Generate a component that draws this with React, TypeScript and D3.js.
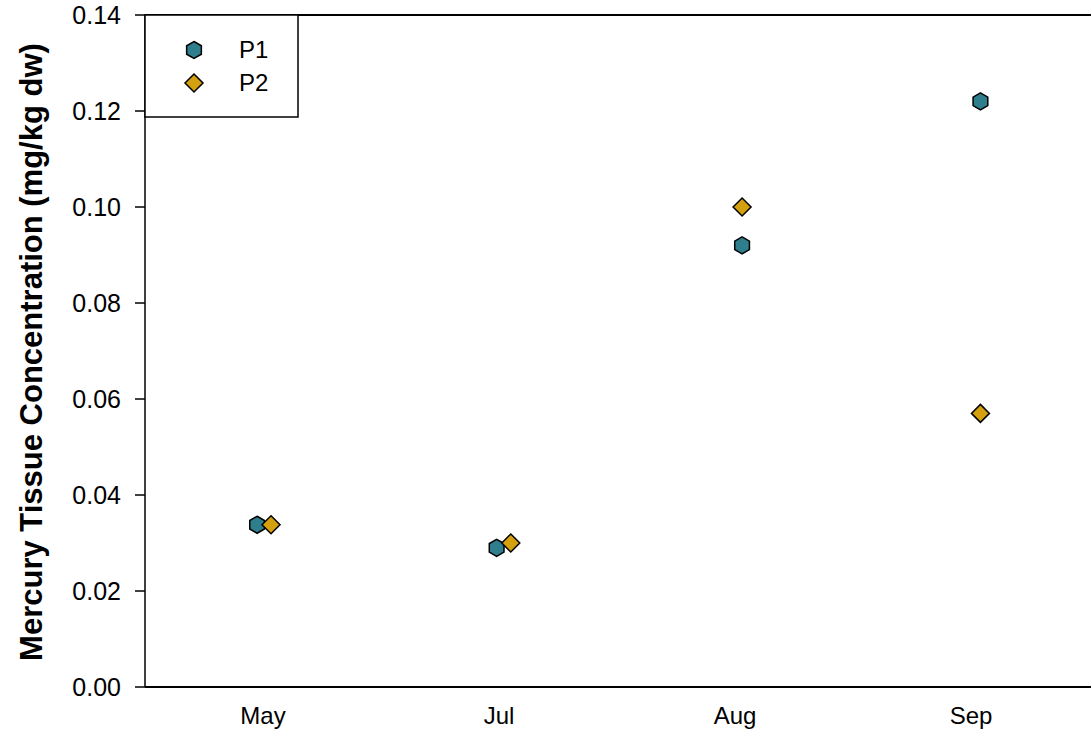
import React from 'react';
import * as d3 from 'd3';

const months = ['May', 'Jul', 'Aug', 'Sep'];
// x positions in category units (points sit slightly off the month centre)
const p1X = [-0.025, 0.99, 2.03, 3.04];
const p1Y = [0.0338, 0.029, 0.092, 0.122];
const p2X = [0.034, 1.05, 2.03, 3.04];
const p2Y = [0.0338, 0.030, 0.100, 0.057];
const yTicks = [0, 0.02, 0.04, 0.06, 0.08, 0.1, 0.12, 0.14];

const P1_COLOR = '#2f7e8d';
const P2_COLOR = '#d5a00f';
const FONT = 'Arial, "Liberation Sans", sans-serif';

const hexPath = (r: number) => {
  const pts = d3.range(6).map(i => {
    const a = (Math.PI / 3) * i - Math.PI / 2;
    return [r * Math.cos(a), r * Math.sin(a)];
  });
  return 'M' + pts.map(p => p.join(',')).join('L') + 'Z';
};
const diamondPath = (r: number) => `M0,${-r}L${r},0L0,${r}L${-r},0Z`;

const App = () => {
  const width = 1091;
  const height = 734;
  const left = 145;
  const top = 15;
  const bottom = 687;

  const x = d3.scaleLinear().domain([-0.5, 3.5]).range([left, 1089]);
  const y = d3.scaleLinear().domain([0, 0.14]).range([bottom, top]);

  const hex = hexPath(8.5);
  const dia = diamondPath(9);

  return (
    <svg width={width} height={height} style={{ position: 'absolute', left: 0, top: 0 }} fontFamily={FONT}>
      <rect width={width} height={height} fill="#fff" />
      {/* frame */}
      <line x1={left} x2={width} y1={top} y2={top} stroke="#000" strokeWidth={2} />
      <line x1={left} x2={width} y1={bottom} y2={bottom} stroke="#000" strokeWidth={2} />
      <line x1={left} x2={left} y1={top} y2={bottom} stroke="#000" strokeWidth={1.5} />

      {/* y axis */}
      {yTicks.map(t => (
        <g key={t} transform={`translate(0,${y(t)})`}>
          <line x1={left - 10} x2={left} stroke="#000" strokeWidth={1.5} />
          <text x={left - 24} dy="0.35em" textAnchor="end" fontSize={25} fill="#000">
            {t.toFixed(2)}
          </text>
        </g>
      ))}
      <text
        transform={`translate(31,${(top + bottom) / 2 + 1}) rotate(-90)`}
        textAnchor="middle"
        dy="0.35em"
        fontSize={31}
        fontWeight="bold"
        fill="#000"
      >
        Mercury Tissue Concentration (mg/kg dw)
      </text>

      {/* x labels */}
      {months.map((m, i) => (
        <text key={m} x={x(i)} y={716} dy="0.35em" textAnchor="middle" fontSize={24} fill="#000">
          {m}
        </text>
      ))}

      {/* points */}
      {p1Y.map((v, i) => (
        <path key={'p1' + i} d={hex} transform={`translate(${x(p1X[i])},${y(v)})`} fill={P1_COLOR} stroke="#000" strokeWidth={1.5} />
      ))}
      {p2Y.map((v, i) => (
        <path key={'p2' + i} d={dia} transform={`translate(${x(p2X[i])},${y(v)})`} fill={P2_COLOR} stroke="#000" strokeWidth={1.5} />
      ))}

      {/* legend */}
      <rect x={left} y={top} width={153} height={102} fill="#fff" stroke="#000" strokeWidth={1.5} />
      <path d={hex} transform="translate(194,50)" fill={P1_COLOR} stroke="#000" strokeWidth={1.5} />
      <text x={239} y={50} dy="0.35em" fontSize={24} fill="#000">P1</text>
      <path d={dia} transform="translate(194,83)" fill={P2_COLOR} stroke="#000" strokeWidth={1.5} />
      <text x={239} y={83} dy="0.35em" fontSize={24} fill="#000">P2</text>
    </svg>
  );
};

export default App;
